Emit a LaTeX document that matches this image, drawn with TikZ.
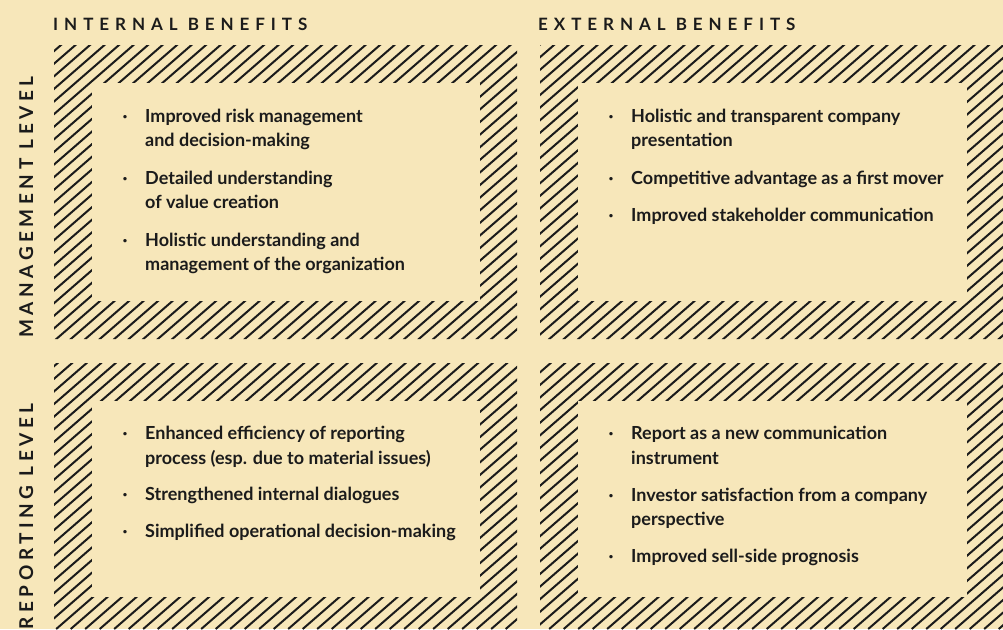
\documentclass[tikz,border=0pt]{standalone}
\usepackage{fontspec}
\setmainfont{Lato}
\newfontfamily\headfont[LetterSpace=35]{Lato Bold}
\newfontfamily\sidefont[LetterSpace=24]{Lato Bold}
\newfontfamily\bodyfont{Lato Bold}
\definecolor{paper}{HTML}{F7E7BA}
\definecolor{ink}{HTML}{1B1B1B}
\begin{document}
\begin{tikzpicture}[x=1pt,y=-1pt,
  heading/.style={anchor=base west, inner sep=0pt, text=ink,
    font=\headfont\fontsize{17}{19}\selectfont},
  sidelabel/.style={inner sep=0pt, text=ink, rotate=90,
    font=\sidefont\fontsize{19}{21}\selectfont},
  itemline/.style={anchor=base west, inner sep=0pt, text=ink,
    font=\bodyfont\fontsize{18}{20}\selectfont},
  itemdot/.style={anchor=base, inner sep=0pt, text=ink,
    font=\bodyfont\fontsize{18}{20}\selectfont},
  hatchline/.style={draw=ink, line width=2pt},
  panel/.style={fill=paper, draw=none, inner sep=0pt}]

% page
\path[use as bounding box, fill=paper] (0,0) rectangle (1003,629);

% hatched frames: diagonal lines clipped to the four outer rectangles
\begin{scope}
  \clip (54,45) rectangle (517,339)
        (540,45) rectangle (1003,339)
        (54,363) rectangle (517,670)
        (540,363) rectangle (1003,670);
  \foreach \n in {-6,...,125}{
    \pgfmathsetmacro{\k}{54.8+14.5*\n}
    \draw[hatchline] (\k,0) -- ({\k-723.6},629);
  }
\end{scope}

% inner panels
\node[panel, minimum width=388pt, minimum height=218pt] (tl) at (286,192) {};
\node[panel, minimum width=389pt, minimum height=218pt] (tr) at (772.5,192) {};
\node[panel, minimum width=388pt, minimum height=196pt] (bl) at (286,499) {};
\node[panel, minimum width=389pt, minimum height=196pt] (br) at (772.5,499) {};

% column headings
\node[heading] (hint) at (53,30.5) {INTERNAL BENEFITS};
\node[heading] (hext) at (538,30.5) {EXTERNAL BENEFITS};

% row labels
\node[sidelabel, anchor=base west] (lman) at (33,338) {MANAGEMENT LEVEL};
\node[sidelabel, anchor=base east] (lrep) at (33,403) {REPORTING LEVEL};

% internal / management
\node[itemdot] (d11) at (125,122) {·};
\node[itemline] (t11a) at (145,122) {Improved risk management};
\node[itemline] (t11b) at (145,146) {and decision-making};
\node[itemdot] (d12) at (125,184) {·};
\node[itemline] (t12a) at (145,184) {Detailed understanding};
\node[itemline] (t12b) at (145,208) {of value creation};
\node[itemdot] (d13) at (125,246) {·};
\node[itemline] (t13a) at (145,246) {Holistic understanding and};
\node[itemline] (t13b) at (145,270) {management of the organization};

% external / management
\node[itemdot] (d21) at (611,122) {·};
\node[itemline] (t21a) at (631,122) {Holistic and transparent company};
\node[itemline] (t21b) at (631,146) {presentation};
\node[itemdot] (d22) at (611,184) {·};
\node[itemline] (t22a) at (631,184) {Competitive advantage as a first mover};
\node[itemdot] (d23) at (611,221) {·};
\node[itemline] (t23a) at (631,221) {Improved stakeholder communication};

% internal / reporting
\node[itemdot] (d31) at (125,439) {·};
\node[itemline] (t31a) at (145,439) {Enhanced efficiency of reporting};
\node[itemline] (t31b) at (145,464) {process (esp. due to material issues)};
\node[itemdot] (d32) at (125,500) {·};
\node[itemline] (t32a) at (145,500) {Strengthened internal dialogues};
\node[itemdot] (d33) at (125,537) {·};
\node[itemline] (t33a) at (145,537) {Simplified operational decision-making};

% external / reporting
\node[itemdot] (d41) at (611,439) {·};
\node[itemline] (t41a) at (631,439) {Report as a new communication};
\node[itemline] (t41b) at (631,464) {instrument};
\node[itemdot] (d42) at (611,501) {·};
\node[itemline] (t42a) at (631,501) {Investor satisfaction from a company};
\node[itemline] (t42b) at (631,525) {perspective};
\node[itemdot] (d43) at (611,562) {·};
\node[itemline] (t43a) at (631,562) {Improved sell-side prognosis};
\end{tikzpicture}
\end{document}
